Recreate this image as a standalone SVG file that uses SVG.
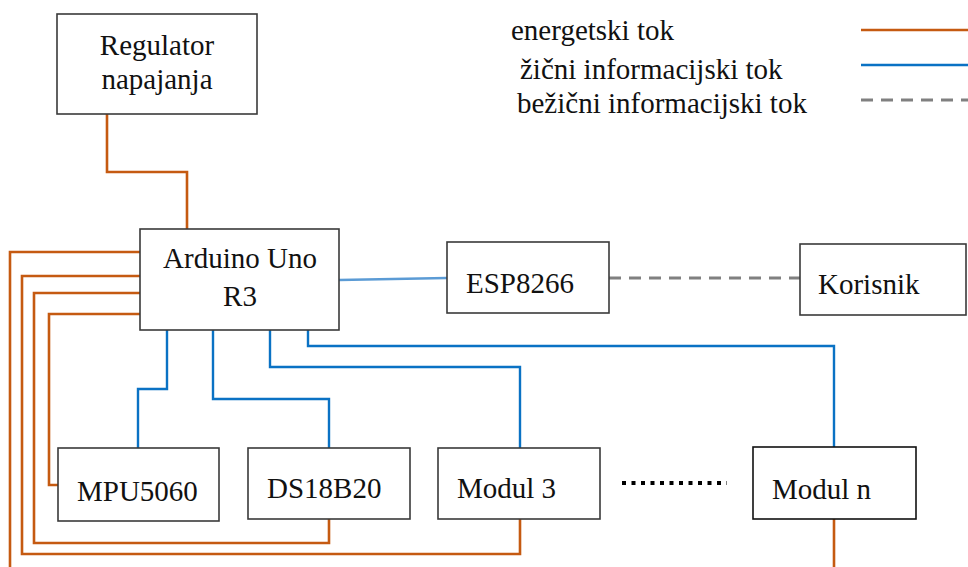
<svg xmlns="http://www.w3.org/2000/svg" width="968" height="567" viewBox="0 0 968 567">
<style>
.box{fill:#fff;stroke:#3a3a3a;stroke-width:1.6}
.t{font-family:"Liberation Serif",serif;font-size:29px;fill:#111}
.c{text-anchor:middle}
.en{fill:none;stroke:#c55a11;stroke-width:2.6}
.inf{fill:none;stroke:#0a72c4;stroke-width:2.4}
.wl{fill:none;stroke:#808080;stroke-width:3;stroke-dasharray:12 8}
</style>
<rect width="968" height="567" fill="#fff"/>
<g id="connectors">
<path class="en" d="M107,114 V172 H187 V229"/>
<path class="en" d="M140,252 H10 V567"/>
<path class="en" d="M140,276 H22 V554 H520 V519"/>
<path class="en" d="M140,293 H34 V543 H329 V519"/>
<path class="en" d="M140,314 H49 V485 H58"/>
<path class="en" d="M834,519 V567"/>
<path class="inf" d="M167,330 V389 H138 V448"/>
<path class="inf" d="M213,330 V399 H329 V448"/>
<path class="inf" d="M270,330 V367 H520 V448"/>
<path class="inf" d="M308,330 V346 H834 V447"/>
<path d="M339,280 L447,278" fill="none" stroke="#5b9bd5" stroke-width="2.4"/>
<path class="wl" d="M609,278 H800"/>
<path d="M622,483 H727" fill="none" stroke="#000" stroke-width="4" stroke-dasharray="4 5.5"/>
</g>
<g id="regulator">
<rect class="box" x="57" y="14" width="200" height="100"/>
<text class="t c" x="157" y="55">Regulator</text>
<text class="t c" x="157" y="89">napajanja</text>
</g>
<g id="arduino">
<rect class="box" x="140" y="229" width="199" height="101"/>
<text class="t c" x="240" y="268">Arduino Uno</text>
<text class="t c" x="240" y="306">R3</text>
</g>
<g id="esp">
<rect class="box" x="447" y="242" width="162" height="71"/>
<text class="t" x="466" y="293">ESP8266</text>
</g>
<g id="korisnik">
<rect class="box" x="800" y="244" width="166" height="71"/>
<text class="t" x="818" y="294">Korisnik</text>
</g>
<g id="mpu">
<rect class="box" x="58" y="448" width="161" height="73"/>
<text class="t" x="77" y="501">MPU5060</text>
</g>
<g id="ds">
<rect class="box" x="248" y="448" width="162" height="71"/>
<text class="t" x="267" y="498">DS18B20</text>
</g>
<g id="modul3">
<rect class="box" x="438" y="448" width="162" height="71"/>
<text class="t" x="457" y="498">Modul 3</text>
</g>
<g id="moduln">
<rect class="box" x="753" y="447" width="163" height="72" style="stroke:#111"/>
<text class="t" x="772" y="499">Modul n</text>
</g>
<g id="legend">
<text class="t" x="511" y="40">energetski tok</text>
<text class="t" x="520" y="79">žični informacijski tok</text>
<text class="t" x="517" y="113">bežični informacijski tok</text>
<path class="en" d="M861,30 H968"/>
<path class="inf" d="M861,65 H968"/>
<path class="wl" d="M861,100 H968"/>
</g>
</svg>
